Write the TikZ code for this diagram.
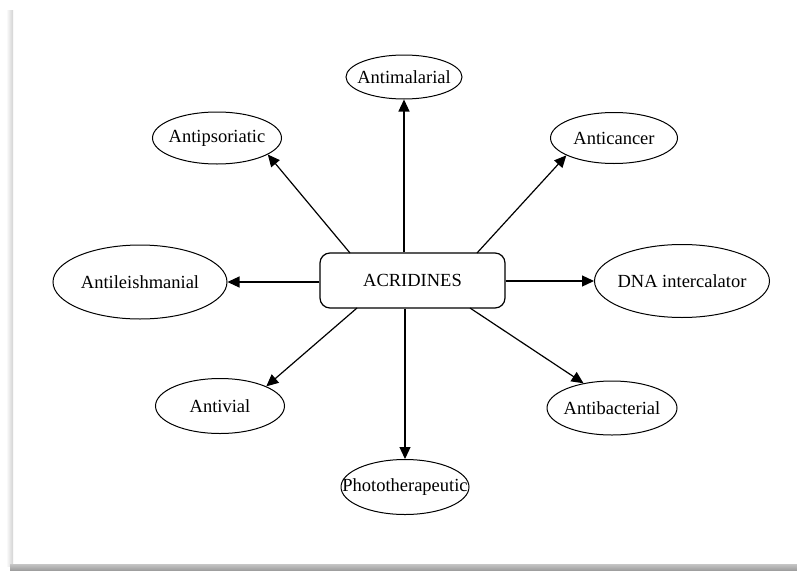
\documentclass[tikz,border=0pt]{standalone}
\usepackage{fontspec}
\setmainfont{Liberation Serif}
\usetikzlibrary{arrows.meta,shapes.geometric}
\newcommand{\zb}[1]{\makebox[0pt]{#1}}
\begin{document}
\begin{tikzpicture}[x=1pt,y=-1pt,
  lbl/.style={ellipse,draw,line width=1pt,inner sep=0pt,font=\fontsize{18.5}{20}\selectfont},
  hub/.style={rectangle,rounded corners=10pt,draw,line width=1.2pt,minimum width=185pt,minimum height=55pt,inner sep=0pt,font=\fontsize{18.5}{20}\selectfont},
  conn/.style={line width=1.2pt,-{Triangle[length=12pt,width=11pt]}}]
\useasboundingbox (0,0) rectangle (797,570);
\fill[white] (0,0) rectangle (797,570);
\shade[left color=white,right color=gray!35] (6,10) rectangle (13,566);
\shade[top color=gray!45,bottom color=gray!75] (10,564) rectangle (797,570);

\node[hub] (r) at (412.5,280.5) {ACRIDINES};
\node[lbl,minimum width=116pt,minimum height=44pt] (am) at (404,77) {\zb{Antimalarial}};
\node[lbl,minimum width=129pt,minimum height=52pt] (ap) at (217,138) {\zb{Antipsoriatic}};
\node[lbl,minimum width=127pt,minimum height=51pt] (ac) at (614,138) {\zb{Anticancer}};
\node[lbl,minimum width=174pt,minimum height=74pt] (al) at (140,282) {\zb{Antileishmanial}};
\node[lbl,minimum width=175pt,minimum height=73pt] (dna) at (682,281) {\zb{DNA intercalator}};
\node[lbl,minimum width=129pt,minimum height=55pt] (av) at (220,406) {\zb{Antivial}};
\node[lbl,minimum width=128pt,minimum height=55pt] (pt) at (405,487) {\zb{Phototherapeutic}};
\node[lbl,minimum width=130pt,minimum height=54pt] (ab) at (612,408) {\zb{Antibacterial}};

\coordinate (sap) at (350,253);
\coordinate (sac) at (477,253);
\coordinate (sav) at (357,308);
\coordinate (sab) at (470,308);

\draw[conn] (am.south |- r.north) -- (am.south);
\draw[conn] (pt.north |- r.south) -- (pt.north);
\draw[conn] (r.west |- al.east) -- (al.east);
\draw[conn] (r.east |- dna.west) -- (dna.west);
\draw[conn] (sap) -- (ap.-18);
\draw[conn] (sac) -- (ac.-160);
\draw[conn] (sav) -- (av.23);
\draw[conn] (sab) -- (ab.139);
\end{tikzpicture}
\end{document}
